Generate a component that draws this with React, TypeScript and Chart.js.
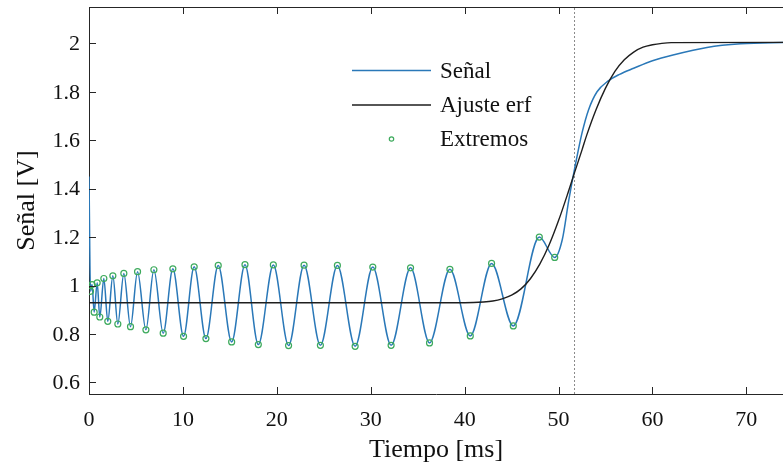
import React, { useEffect, useRef } from "react";
import { Chart, registerables } from "chart.js";

Chart.register(...registerables);

// ---- data ----
// extrema of the signal (time in ms, value in V)
const extremaT = [
  0.16, 0.33, 0.55, 0.87, 1.15, 1.58, 2.0, 2.54, 3.07, 3.71, 4.42, 5.17, 6.06,
  6.91, 7.9, 8.93, 10.07, 11.2, 12.45, 13.76, 15.19, 16.61, 18.03, 19.63, 21.25,
  22.9, 24.64, 26.45, 28.34, 30.22, 32.17, 34.24, 36.26, 38.43, 40.6, 42.87,
  45.18, 47.95, 49.59,
];
const extremaV = [
  0.976, 1.004, 0.89, 1.011, 0.87, 1.029, 0.852, 1.04, 0.841, 1.05, 0.83, 1.057,
  0.817, 1.065, 0.803, 1.069, 0.79, 1.077, 0.781, 1.083, 0.767, 1.086, 0.756,
  1.085, 0.752, 1.084, 0.753, 1.083, 0.749, 1.076, 0.753, 1.073, 0.763, 1.067,
  0.792, 1.091, 0.833, 1.2, 1.116,
];
// start of the signal and its rise after the last minimum
const signalStartT = [0];
const signalStartV = [1.45];
const signalRiseT = [50.4, 51.1, 51.83, 52.5, 53.2, 54.1, 55.3, 56.5, 58.0, 60.0, 62.3, 65.8, 69.4, 74.5];
const signalRiseV = [1.19, 1.355, 1.506, 1.63, 1.726, 1.8, 1.845, 1.872, 1.897, 1.928, 1.953, 1.983, 1.998, 2.004];
// erf fit curve
const fitT = [0, 40, 42, 43, 44, 45, 46, 47, 48, 49, 50, 51, 51.7, 52.5, 53, 54, 55, 56, 57, 58, 59, 60, 61, 62, 74.5];
const fitV = [0.929, 0.929, 0.932, 0.936, 0.945, 0.96, 0.986, 1.028, 1.088, 1.168, 1.268, 1.382, 1.466, 1.56, 1.621, 1.727, 1.815, 1.884, 1.932, 1.964, 1.984, 1.994, 2.0, 2.003, 2.004];
// dotted marker
const markerT = 51.7;

const xTicks = [0, 10, 20, 30, 40, 50, 60, 70];
const yTicks = [0.6, 0.8, 1, 1.2, 1.4, 1.6, 1.8, 2];
const xRange = [0, 73.9];
const yRange = [0.552, 2.15];

const labels = { signal: "Señal", fit: "Ajuste erf", extrema: "Extremos" };
const xTitle = "Tiempo [ms]";
const yTitle = "Señal [V]";

const FONT = "'Liberation Serif', 'Times New Roman', serif";
const AXIS = "#262626";
const BLUE = "#2a78b8";
const BLACK = "#1e1e1e";
const GREEN = "#3daa5c";

const zip = (t: number[], v: number[]) => t.map((x, i) => ({ x, y: v[i] }));

const framePlugin = {
  id: "frame",
  afterDatasetsDraw(chart: any) {
    const { ctx, chartArea: a, scales } = chart;
    ctx.save();
    ctx.strokeStyle = AXIS;
    ctx.lineWidth = 1;
    ctx.beginPath();
    ctx.moveTo(a.left, a.top + 0.5);
    ctx.lineTo(a.right, a.top + 0.5);
    const L = 7;
    for (const t of scales.x.ticks) {
      const px = Math.round(scales.x.getPixelForValue(t.value)) + 0.5;
      ctx.moveTo(px, a.bottom);
      ctx.lineTo(px, a.bottom - L);
      ctx.moveTo(px, a.top);
      ctx.lineTo(px, a.top + L);
    }
    for (const t of scales.y.ticks) {
      const py = Math.round(scales.y.getPixelForValue(t.value)) + 0.5;
      ctx.moveTo(a.left, py);
      ctx.lineTo(a.left + L, py);
    }
    ctx.stroke();
    ctx.restore();
  },
};

const legendPlugin = {
  id: "customLegend",
  afterDraw(chart: any) {
    const { ctx } = chart;
    const ds = chart.data.datasets;
    const x0 = 352, x1 = 431, tx = 440;
    const rows = [70.5, 105, 139];
    ctx.save();
    ctx.font = `23px ${FONT}`;
    ctx.textBaseline = "middle";
    ctx.textAlign = "left";
    for (let i = 0; i < 3; i++) {
      const d = ds[i];
      const y = rows[i];
      if (d.showLine === false) {
        ctx.beginPath();
        ctx.strokeStyle = d.borderColor;
        ctx.lineWidth = 1.2;
        ctx.arc((x0 + x1) / 2, y, 2.2, 0, Math.PI * 2);
        ctx.stroke();
      } else {
        ctx.beginPath();
        ctx.strokeStyle = d.borderColor;
        ctx.lineWidth = 1.4;
        ctx.moveTo(x0, y);
        ctx.lineTo(x1, y);
        ctx.stroke();
      }
      ctx.fillStyle = "#111";
      ctx.fillText(d.label, tx, y + 1);
    }
    ctx.restore();
  },
};

export default function App() {
  const ref = useRef<HTMLCanvasElement | null>(null);
  useEffect(() => {
    if (!ref.current) return;
    const signal = [...zip(signalStartT, signalStartV), ...zip(extremaT, extremaV), ...zip(signalRiseT, signalRiseV)];
    const chart = new Chart(ref.current, {
      type: "line",
      data: {
        datasets: [
          {
            label: labels.signal,
            data: signal,
            borderColor: BLUE,
            borderWidth: 1.5,
            pointRadius: 0,
            cubicInterpolationMode: "monotone",
            order: 3,
          },
          {
            label: labels.fit,
            data: zip(fitT, fitV),
            borderColor: BLACK,
            borderWidth: 1.4,
            pointRadius: 0,
            cubicInterpolationMode: "monotone",
            order: 2,
          },
          {
            label: labels.extrema,
            data: zip(extremaT, extremaV),
            showLine: false,
            borderColor: GREEN,
            backgroundColor: "rgba(0,0,0,0)",
            pointRadius: 3,
            pointBorderWidth: 1.2,
            order: 1,
          },
          {
            label: "marker",
            data: [
              { x: markerT, y: yRange[0] },
              { x: markerT, y: yRange[1] },
            ],
            borderColor: "#8a8a8a",
            borderWidth: 1,
            borderDash: [2, 2],
            pointRadius: 0,
            order: 4,
          },
        ] as any,
      },
      options: {
        animation: false,
        responsive: false,
        parsing: false as any,
        layout: { autoPadding: false, padding: { top: 7, right: 0, left: 0, bottom: 0 } },
        plugins: { legend: { display: false }, tooltip: { enabled: false } },
        scales: {
          x: {
            type: "linear",
            min: xRange[0],
            max: xRange[1],
            afterBuildTicks: (s: any) => {
              s.ticks = xTicks.map((v) => ({ value: v }));
            },
            afterFit: (s: any) => {
              s.height = 69;
              s.paddingLeft = 0;
              s.paddingRight = 0;
            },
            grid: { drawOnChartArea: false, drawTicks: false },
            border: { display: true, color: AXIS, width: 1 },
            ticks: {
              padding: 13,
              color: "#111",
              font: { family: FONT, size: 22 },
              maxRotation: 0,
              callback: (v: any) => String(Math.round(Number(v) * 10) / 10),
            },
            title: {
              display: true,
              text: xTitle,
              color: "#111",
              font: { family: FONT, size: 26, lineHeight: 1 },
              padding: 0,
            },
          },
          y: {
            type: "linear",
            min: yRange[0],
            max: yRange[1],
            afterBuildTicks: (s: any) => {
              s.ticks = yTicks.map((v) => ({ value: v }));
            },
            afterFit: (s: any) => {
              s.width = 89;
              s.paddingTop = 0;
              s.paddingBottom = 0;
            },
            grid: { drawOnChartArea: false, drawTicks: false },
            border: { display: true, color: AXIS, width: 1 },
            ticks: {
              padding: 9,
              labelOffset: 1,
              color: "#111",
              font: { family: FONT, size: 22 },
              callback: (v: any) => String(Math.round(Number(v) * 10) / 10),
            },
            title: {
              display: true,
              text: yTitle,
              color: "#111",
              font: { family: FONT, size: 26, lineHeight: 1 },
              padding: { top: 14, bottom: 0 },
            },
          },
        },
      } as any,
      plugins: [framePlugin, legendPlugin],
    });
    return () => chart.destroy();
  }, []);
  return (
    <div style={{ position: "fixed", left: 0, top: 0, width: 783, height: 463, background: "#fff" }}>
      <canvas ref={ref} width={783} height={463} />
    </div>
  );
}
